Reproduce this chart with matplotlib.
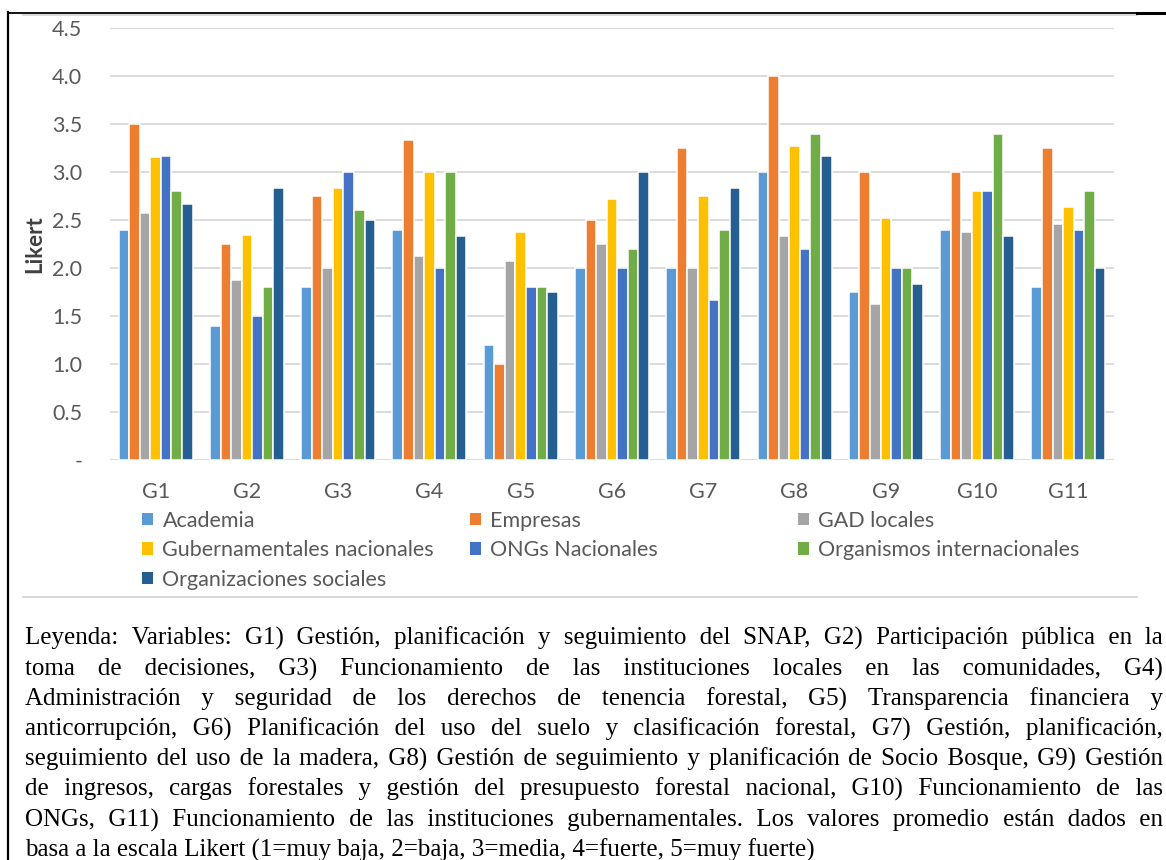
import matplotlib
matplotlib.use("Agg")
import matplotlib.pyplot as plt
from matplotlib.lines import Line2D
from matplotlib.patches import Patch
import numpy as np

W_PX, H_PX = 1166, 860

groups = ["G1", "G2", "G3", "G4", "G5", "G6", "G7", "G8", "G9", "G10", "G11"]

academia = [2.40, 1.40, 1.80, 2.40, 1.20, 2.00, 2.00, 3.00, 1.75, 2.40, 1.80]
empresas = [3.50, 2.25, 2.75, 3.33, 1.00, 2.50, 3.25, 4.00, 3.00, 3.00, 3.25]
gad_locales = [2.57, 1.87, 2.00, 2.13, 2.07, 2.25, 2.00, 2.33, 1.63, 2.38, 2.46]
gubernamentales = [3.16, 2.34, 2.83, 3.00, 2.37, 2.72, 2.75, 3.27, 2.52, 2.80, 2.64]
ongs = [3.17, 1.50, 3.00, 2.00, 1.80, 2.00, 1.67, 2.20, 2.00, 2.80, 2.40]
org_internacionales = [2.80, 1.80, 2.60, 3.00, 1.80, 2.20, 2.40, 3.40, 2.00, 3.40, 2.80]
org_sociales = [2.67, 2.83, 2.50, 2.33, 1.75, 3.00, 2.83, 3.17, 1.83, 2.33, 2.00]

series_names = ["Academia", "Empresas", "GAD locales", "Gubernamentales nacionales",
                "ONGs Nacionales", "Organismos internacionales", "Organizaciones sociales"]
series_values = [academia, empresas, gad_locales, gubernamentales, ongs,
                 org_internacionales, org_sociales]
colors = ["#5B9BD5", "#ED7D31", "#A5A5A5", "#FFC000", "#4472C4", "#70AD47", "#255E91"]

caption_lines = [
    "Leyenda: Variables: G1) Gestión, planificación y seguimiento del SNAP, G2) Participación pública en la",
    "toma de decisiones, G3) Funcionamiento de las instituciones locales en las comunidades, G4)",
    "Administración y seguridad de los derechos de tenencia forestal, G5) Transparencia financiera y",
    "anticorrupción, G6) Planificación del uso del suelo y clasificación forestal, G7) Gestión, planificación,",
    "seguimiento del uso de la madera, G8) Gestión de seguimiento y planificación de Socio Bosque, G9) Gestión",
    "de ingresos, cargas forestales y gestión del presupuesto forestal nacional, G10) Funcionamiento de las",
    "ONGs, G11) Funcionamiento de las instituciones gubernamentales. Los valores promedio están dados en",
    "basa a la escala Likert (1=muy baja, 2=baja, 3=media, 4=fuerte, 5=muy fuerte)",
]

SANS = ["Lato", "DejaVu Sans"]
SERIF = ["Liberation Serif", "DejaVu Serif"]
TXT = "#595959"


def fx(px):
    return px / W_PX


def fy(py):
    return 1 - py / H_PX


fig = plt.figure(figsize=(W_PX / 100, H_PX / 100), dpi=100)
ax = fig.add_axes([fx(110), fy(460), fx(1114) - fx(110), fy(28) - fy(460)])

x = np.arange(len(groups))
n = len(series_values)
slot = 0.81 / n
for k, (name, vals, c) in enumerate(zip(series_names, series_values, colors)):
    ax.bar(x + (k - (n - 1) / 2) * slot, vals, width=slot, color=c,
           edgecolor="white", linewidth=1.1, label=name, zorder=3)

ax.set_xlim(-0.5, len(groups) - 0.5)
ax.set_ylim(0, 4.5)
ax.set_yticks(np.arange(0, 4.51, 0.5))
ax.set_yticklabels(["-" if v == 0 else f"{v:.1f}" for v in np.arange(0, 4.51, 0.5)])
ax.set_xticks(x)
ax.set_xticklabels(groups)
ax.grid(axis="y", color="#D9D9D9", linewidth=1.3, zorder=0)
ax.set_axisbelow(True)
for s in ax.spines.values():
    s.set_visible(False)
ax.tick_params(axis="y", length=0, pad=20, labelsize=15.5, labelcolor=TXT)
ax.tick_params(axis="x", length=0, pad=16, labelsize=15.5, labelcolor=TXT)
for lab in ax.get_xticklabels() + ax.get_yticklabels():
    lab.set_family(SANS)

ax.set_ylabel("Likert", fontsize=16, color="#404040", family=SANS, fontweight="bold")
ax.yaxis.set_label_coords((45 - 110) / 1004, 0.5)

# legend: three fixed-width columns, filled row by row
col_x = [142, 470, 798]
row_y = 511
for c in range(3):
    idx = list(range(c, n, 3))
    handles = [Patch(facecolor=colors[i], edgecolor="none") for i in idx]
    labels = [series_names[i] for i in idx]
    fig.legend(handles, labels, loc="upper left", bbox_to_anchor=(fx(col_x[c]), fy(row_y)),
               frameon=False, ncol=1, prop={"family": SANS, "size": 15.5},
               labelcolor=TXT, handlelength=0.5, handleheight=0.5,
               handletextpad=0.45, labelspacing=0.43, borderpad=0, borderaxespad=0)

# frame lines around the chart block
fig.add_artist(Line2D([fx(23), fx(1137)], [fy(14.5), fy(14.5)], color="#D9D9D9", lw=1.4))
fig.add_artist(Line2D([fx(23), fx(1137)], [fy(597), fy(597)], color="#D9D9D9", lw=1.4))
fig.add_artist(Line2D([fx(8), fx(1166)], [fy(12.5), fy(12.5)], color="black", lw=1.3))
fig.add_artist(Line2D([fx(1137), fx(1166)], [fy(13), fy(13)], color="black", lw=2.2))
fig.add_artist(Line2D([fx(8), fx(8)], [fy(12), fy(860)], color="black", lw=1.6))

# justified caption: one text per line, word gaps built from space glyphs
fig.canvas.draw()
renderer = fig.canvas.get_renderer()


def text_width(s, size):
    t = fig.text(0, 0, s, family=SERIF, fontsize=size)
    w = t.get_window_extent(renderer).width
    t.remove()
    return w


def glyph_width(ch, size):
    return text_width("a" + ch + "a", size) - text_width("aa", size)


left, right = 25, 1163
line_w = right - left
base = 10
space_w = glyph_width(" ", base)
fs = 18
for line in caption_lines[:-1]:
    words = line.split()
    natural = sum(text_width(w, base) for w in words) + 0.2 * space_w * (len(words) - 1)
    fs = min(fs, base * line_w / natural)

spaces = {" ": glyph_width(" ", fs), "\u2009": glyph_width("\u2009", fs),
          "\u200a": glyph_width("\u200a", fs)}
combos = []
for a in range(0, 6):
    for b in range(0, 4):
        for c in range(0, 4):
            if a + b + c == 0:
                continue
            s = " " * a + "\u2009" * b + "\u200a" * c
            combos.append((a * spaces[" "] + b * spaces["\u2009"] + c * spaces["\u200a"], s))

for i, line in enumerate(caption_lines):
    yb = fy(645 + 30.2 * i)
    words = line.split()
    if i < len(caption_lines) - 1:
        widths = [text_width(w, fs) for w in words]
        gap = (line_w - sum(widths)) / (len(words) - 1)
        out, target, cur = words[0], 0.0, 0.0
        for w in words[1:]:
            target += gap
            wd, s = min(combos, key=lambda cb: abs(cur + cb[0] - target))
            cur += wd
            out += s + w
        line = out
    fig.text(fx(left), yb, line, family=SERIF, fontsize=fs, va="baseline", color="black")

fig.savefig("out.png", dpi=100)
